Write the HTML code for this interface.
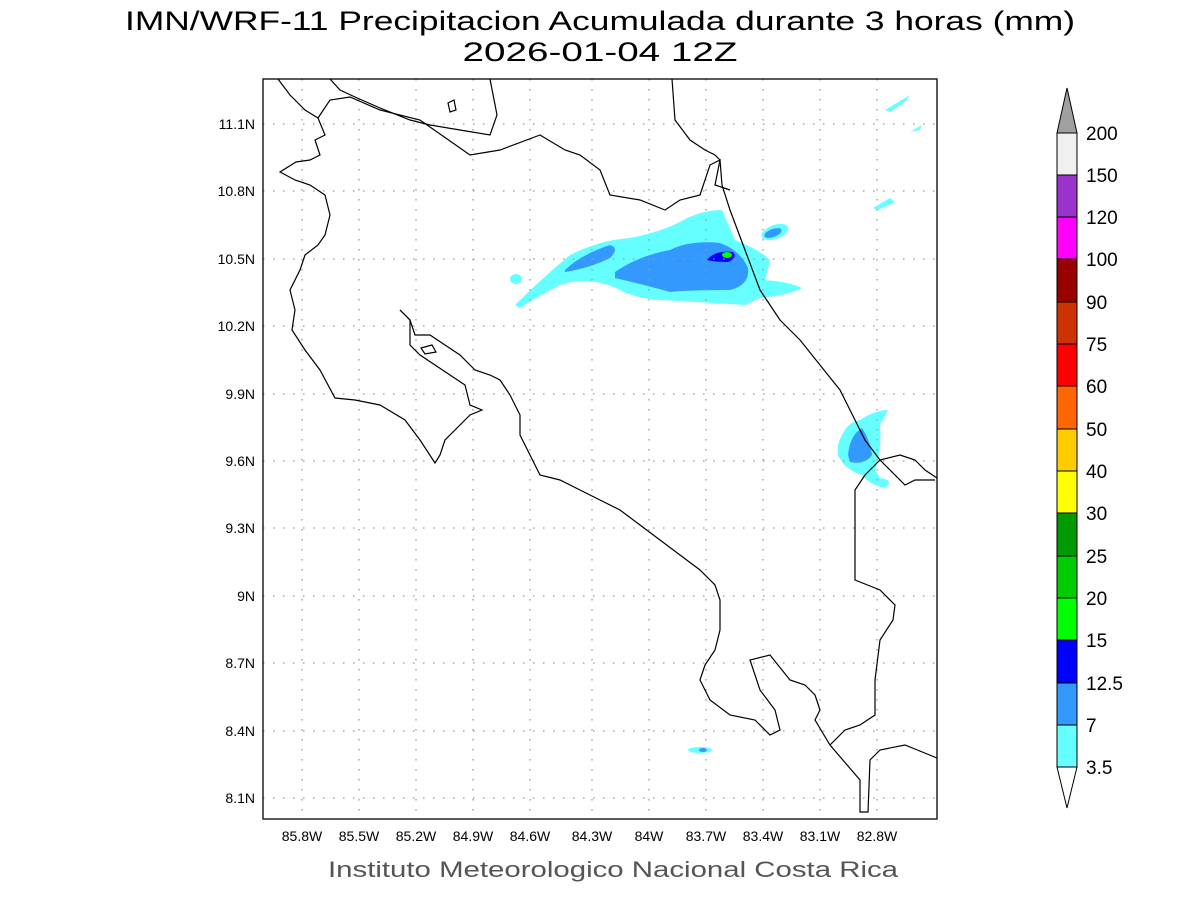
<!DOCTYPE html>
<html><head><meta charset="utf-8"><style>
body{margin:0;background:#fff;width:1200px;height:900px;overflow:hidden}
svg text{font-family:"Liberation Sans",sans-serif}
</style></head><body>
<svg width="1200" height="900" xmlns="http://www.w3.org/2000/svg">
<rect width="1200" height="900" fill="#fff"/>
<text x="600" y="30" font-size="27" text-anchor="middle" textLength="950" lengthAdjust="spacingAndGlyphs">IMN/WRF-11 Precipitacion Acumulada durante 3 horas (mm)</text>
<text x="600" y="61" font-size="27" text-anchor="middle" textLength="275" lengthAdjust="spacingAndGlyphs">2026-01-04 12Z</text>
<!-- precip -->
<g stroke="none">
<path fill="#66ffff" d="M515,305 Q540,280 570,255 Q600,240 630,238 Q660,232 680,222 Q700,210 722,210 L735,240 Q760,250 770,260 L765,280 Q790,282 802,288 Q790,295 760,298 L745,305 Q700,302 660,300 Q635,298 620,290 Q590,275 560,285 Q540,295 520,308 Z"/>
<ellipse cx="516" cy="279" rx="6" ry="5" fill="#66ffff"/>
<ellipse cx="775" cy="232" rx="14" ry="7" fill="#66ffff" transform="rotate(-20 775 232)"/>
<path fill="#3399ff" d="M565,270 Q580,255 610,245 Q620,248 610,258 Q590,268 565,272 Z"/>
<path fill="#3399ff" d="M615,272 Q640,255 670,250 Q690,240 720,243 Q740,250 748,268 Q750,285 730,290 Q690,290 670,292 Q645,285 615,278 Z"/>
<ellipse cx="773" cy="233" rx="9" ry="4" fill="#3399ff" transform="rotate(-20 773 233)"/>
<path fill="#0000ff" d="M707,260 Q715,250 733,252 Q738,258 728,262 Q715,262 707,260 Z"/>
<ellipse cx="727" cy="255" rx="5" ry="3" fill="#00ff00"/>
<path fill="#66ffff" d="M838,445 Q845,422 860,420 Q875,410 888,410 L880,425 Q882,450 875,470 L880,478 Q895,480 885,488 Q870,485 862,475 Q845,470 838,455 Z"/>
<path fill="#3399ff" d="M848,455 Q850,435 862,428 Q870,440 872,455 Q865,465 850,462 Z"/>
<ellipse cx="700" cy="750" rx="12" ry="3" fill="#66ffff"/>
<ellipse cx="703" cy="750" rx="4" ry="2" fill="#3399ff"/>
<path fill="#66ffff" d="M873,208 L890,198 L895,202 L878,210 Z M885,110 L910,95 L905,102 L890,112 Z M910,132 L922,125 L920,130 Z"/>
</g>
<!-- grid -->
<g stroke="#999" stroke-width="1.3" stroke-dasharray="1.5,8.5">
<line x1="302" y1="79" x2="302" y2="819"/><line x1="359" y1="79" x2="359" y2="819"/><line x1="416" y1="79" x2="416" y2="819"/><line x1="473" y1="79" x2="473" y2="819"/><line x1="530" y1="79" x2="530" y2="819"/><line x1="592" y1="79" x2="592" y2="819"/><line x1="649" y1="79" x2="649" y2="819"/><line x1="706" y1="79" x2="706" y2="819"/><line x1="763" y1="79" x2="763" y2="819"/><line x1="820" y1="79" x2="820" y2="819"/><line x1="877" y1="79" x2="877" y2="819"/>
<line x1="263" y1="124" x2="937" y2="124"/><line x1="263" y1="191" x2="937" y2="191"/><line x1="263" y1="259" x2="937" y2="259"/><line x1="263" y1="326" x2="937" y2="326"/><line x1="263" y1="394" x2="937" y2="394"/><line x1="263" y1="461" x2="937" y2="461"/><line x1="263" y1="528" x2="937" y2="528"/><line x1="263" y1="596" x2="937" y2="596"/><line x1="263" y1="663" x2="937" y2="663"/><line x1="263" y1="731" x2="937" y2="731"/><line x1="263" y1="798" x2="937" y2="798"/>
</g>
<!-- coast -->
<g fill="none" stroke="#000" stroke-width="1.2">
<polyline points="278,79 290,95 305,110 318,118 325,135 315,140 320,155 310,160 296,162 280,172 295,180 310,185 325,195 330,215 325,235 318,245 305,255 300,270 290,290 295,310 292,330 305,350 320,370 335,398 355,400 380,405 405,420 420,440 435,463 440,455 445,440 460,425 470,415 482,410 470,405 465,385 450,375 435,365 420,355 410,345 410,320 400,310"/>
<polyline points="400,310 410,320 415,335 430,335 445,345 460,355 475,370 490,375 500,380 510,395 520,415 520,435 530,455 540,475 560,480 580,490 600,500 620,510 640,525 660,540 680,555 700,570 715,585 720,600 720,630 715,650 705,665 700,680 710,700 730,715 755,720 770,735 780,730 775,710 760,690 750,660 770,655 790,680 805,685 815,695 820,710 815,720 830,745 860,780 860,812 868,812 870,760 880,750 905,745 937,758"/>
<polyline points="830,745 845,730 860,725 875,715 875,680 880,640 893,620 895,605 880,590 855,580 855,490 865,475 880,460 900,455 915,460 925,470 937,478"/>
<polyline points="880,460 905,485 915,480 935,480"/>
<polyline points="720,160 722,185 730,210 745,250 760,290 780,320 800,340 820,365 840,390 855,420 865,440 880,460"/>
<polyline points="330,79 340,90 355,97 380,108 410,120 430,125 460,130 490,135 497,115 490,79"/>
<polyline points="318,118 330,100 350,97 380,110 420,120 470,155 500,150 540,135 565,150 580,155 600,170 610,195 640,200 665,210 680,200 700,195 710,165 720,160 715,185 730,190"/>
<polyline points="672,79 675,120 690,140 705,150 715,155 720,160"/>
<polygon points="421,348 432,345 436,352 425,354"/>
<polygon points="448,103 454,100 456,110 450,112"/>
</g>
<rect x="263" y="79" width="674" height="740" fill="none" stroke="#000" stroke-width="1.3"/>
<!-- y labels -->
<g font-size="14" text-anchor="end">
<text x="255" y="129">11.1N</text><text x="255" y="196">10.8N</text><text x="255" y="264">10.5N</text><text x="255" y="331">10.2N</text><text x="255" y="399">9.9N</text><text x="255" y="466">9.6N</text><text x="255" y="533">9.3N</text><text x="255" y="601">9N</text><text x="255" y="668">8.7N</text><text x="255" y="736">8.4N</text><text x="255" y="803">8.1N</text>
</g>
<g font-size="14" text-anchor="middle">
<text x="302" y="841">85.8W</text><text x="359" y="841">85.5W</text><text x="416" y="841">85.2W</text><text x="473" y="841">84.9W</text><text x="530" y="841">84.6W</text><text x="592" y="841">84.3W</text><text x="649" y="841">84W</text><text x="706" y="841">83.7W</text><text x="763" y="841">83.4W</text><text x="820" y="841">83.1W</text><text x="877" y="841">82.8W</text>
</g>
<text x="613" y="877" font-size="22" text-anchor="middle" fill="#555" textLength="570" lengthAdjust="spacingAndGlyphs">Instituto Meteorologico Nacional Costa Rica</text>
<!-- colorbar -->
<g stroke="#000" stroke-width="1">
<polygon points="1057,133 1067,88 1077,133" fill="#a0a0a0"/>
<rect x="1057" y="133" width="20" height="42" fill="#f0f0f0"/>
<rect x="1057" y="175" width="20" height="42" fill="#9933cc"/>
<rect x="1057" y="217" width="20" height="42" fill="#ff00ff"/>
<rect x="1057" y="259" width="20" height="43" fill="#990000"/>
<rect x="1057" y="302" width="20" height="42" fill="#cc3300"/>
<rect x="1057" y="344" width="20" height="42" fill="#ff0000"/>
<rect x="1057" y="386" width="20" height="43" fill="#ff6600"/>
<rect x="1057" y="429" width="20" height="42" fill="#ffcc00"/>
<rect x="1057" y="471" width="20" height="42" fill="#ffff00"/>
<rect x="1057" y="513" width="20" height="43" fill="#009900"/>
<rect x="1057" y="556" width="20" height="42" fill="#00cc00"/>
<rect x="1057" y="598" width="20" height="42" fill="#00ff00"/>
<rect x="1057" y="640" width="20" height="43" fill="#0000ff"/>
<rect x="1057" y="683" width="20" height="42" fill="#3399ff"/>
<rect x="1057" y="725" width="20" height="42" fill="#66ffff"/>
<polygon points="1057,767 1067,808 1077,767" fill="#fff"/>
</g>
<g font-size="19">
<text x="1086" y="140">200</text><text x="1086" y="182">150</text><text x="1086" y="224">120</text><text x="1086" y="266">100</text><text x="1086" y="309">90</text><text x="1086" y="351">75</text><text x="1086" y="393">60</text><text x="1086" y="436">50</text><text x="1086" y="478">40</text><text x="1086" y="520">30</text><text x="1086" y="563">25</text><text x="1086" y="605">20</text><text x="1086" y="647">15</text><text x="1086" y="690">12.5</text><text x="1086" y="732">7</text><text x="1086" y="774">3.5</text>
</g>
</svg>
</body></html>
